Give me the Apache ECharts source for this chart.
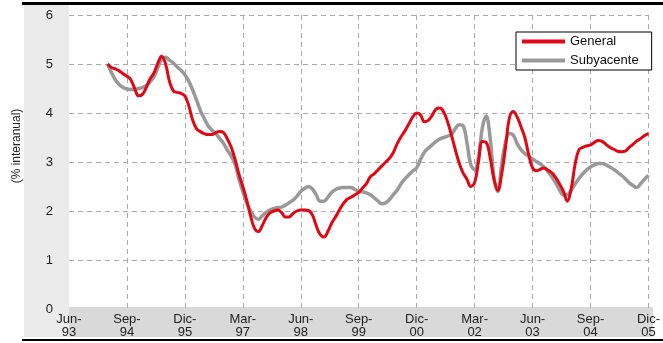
<!DOCTYPE html>
<html><head><meta charset="utf-8">
<script src="https://cdn.jsdelivr.net/npm/echarts/dist/echarts.min.js"></script>
<style>html,body{margin:0;padding:0;background:#fff}#c{width:663px;height:343px}</style>
</head><body><div id="c"></div>
<script>
// Month names (Spanish) and axis range
const monthNames = ['Ene','Feb','Mar','Abr','May','Jun','Jul','Ago','Sep','Oct','Nov','Dic'];
const axisStart = {year: 1993, month: 5};   // Jun-93
const axisEnd = {year: 2005, month: 11};    // Dic-05
const seriesStart = 'Abr-94';
const tickLabels = ['Jun-93','Sep-94','Dic-95','Mar-97','Jun-98','Sep-99','Dic-00','Mar-02','Jun-03','Sep-04','Dic-05'];
const yTicks = [0,1,2,3,4,5,6];
const seriesNames = ['General','Subyacente'];

// Monthly values from Abr-94 to Dic-05 (% interanual)
const general = [
5.00,4.93,4.90,4.86,4.80,4.75,4.68,4.50,4.35,4.38,4.52,4.70,4.82,5.02,5.16,5.00,4.65,4.45,4.42,4.40,
4.35,4.15,3.86,3.68,3.62,3.58,3.56,3.56,3.60,3.62,3.60,3.47,3.30,3.05,2.75,2.50,2.22,1.90,1.65,1.58,
1.70,1.86,1.96,2.00,2.02,1.97,1.88,1.88,1.95,2.00,2.02,2.02,2.01,1.92,1.70,1.52,1.47,1.58,1.75,1.88,
2.02,2.15,2.24,2.28,2.33,2.38,2.47,2.56,2.70,2.76,2.84,2.92,3.00,3.08,3.20,3.38,3.52,3.64,3.78,3.92,
4.00,3.96,3.82,3.85,3.95,4.08,4.10,4.02,3.82,3.55,3.25,2.98,2.78,2.65,2.50,2.58,3.00,3.42,3.40,3.10,
2.65,2.42,2.75,3.30,3.90,4.03,3.92,3.72,3.50,3.15,2.88,2.82,2.85,2.88,2.83,2.78,2.68,2.55,2.40,2.20,
2.45,2.95,3.25,3.30,3.33,3.35,3.40,3.44,3.42,3.36,3.30,3.26,3.22,3.21,3.22,3.30,3.36,3.43,3.48,3.54,
3.58];
const subyacente = [
5.00,4.82,4.68,4.58,4.52,4.49,4.48,4.48,4.50,4.52,4.56,4.64,4.74,4.92,5.10,5.14,5.08,5.02,4.94,4.87,
4.78,4.65,4.47,4.27,4.05,3.89,3.74,3.65,3.58,3.48,3.38,3.24,3.12,2.95,2.65,2.40,2.16,2.00,1.88,1.83,
1.90,1.97,2.02,2.05,2.07,2.08,2.12,2.17,2.22,2.30,2.40,2.46,2.50,2.45,2.33,2.20,2.20,2.28,2.38,2.44,
2.47,2.48,2.48,2.48,2.44,2.40,2.39,2.37,2.33,2.27,2.20,2.15,2.17,2.24,2.34,2.43,2.56,2.66,2.74,2.82,
2.88,3.05,3.20,3.28,3.35,3.42,3.47,3.50,3.53,3.56,3.68,3.76,3.74,3.40,2.95,2.84,3.10,3.70,3.94,3.50,
2.70,2.40,2.95,3.40,3.58,3.55,3.38,3.25,3.17,3.12,3.06,3.01,2.96,2.89,2.80,2.70,2.57,2.43,2.33,2.33,
2.43,2.55,2.66,2.76,2.84,2.90,2.94,2.97,2.97,2.94,2.90,2.85,2.79,2.73,2.66,2.58,2.52,2.48,2.56,2.65,
2.73];

// Build categories
const categories = [];
for (let y = axisStart.year, m = axisStart.month; y < axisEnd.year || (y === axisEnd.year && m <= axisEnd.month); ) {
  categories.push(monthNames[m] + '-' + String(y).slice(2));
  m++; if (m === 12) { m = 0; y++; }
}
const offset = categories.indexOf(seriesStart);
const pad = arr => new Array(offset).fill(null).concat(arr);
const tickSet = new Set(tickLabels);

const chart = echarts.init(document.getElementById('c'), null, {renderer: 'canvas'});
const FONT = '"Liberation Sans", Arial, sans-serif';
chart.setOption({
  animation: false,
  backgroundColor: '#fff',
  grid: {left: 69, right: 10, top: 15, bottom: 34, containLabel: false},
  graphic: [
    {type: 'rect', z: -10, silent: true, shape: {x: 24, y: 5, width: 45, height: 332}, style: {fill: '#ebebeb'}},
    {type: 'rect', z: -10, silent: true, shape: {x: 69, y: 307, width: 584, height: 30}, style: {fill: '#d9d9d9'}},
    {type: 'rect', z: 10, silent: true, shape: {x: 22, y: 2, width: 641, height: 3}, style: {fill: '#000'}},
    {type: 'rect', z: 10, silent: true, shape: {x: 22, y: 339, width: 641, height: 2}, style: {fill: '#000'}},
    {type: 'text', z: 10, silent: true, x: 17, y: 146, rotation: Math.PI / 2,
      style: {text: '(% interanual)', font: '12px ' + FONT, fill: '#222', align: 'center', verticalAlign: 'middle'}}
  ],
  legend: {
    orient: 'vertical', left: 516, top: 32,
    data: seriesNames,
    icon: 'rect', itemWidth: 43, itemHeight: 4, itemGap: 6,
    padding: [3, 13, 3, 6],
    borderColor: '#000', borderWidth: 1, backgroundColor: '#fff',
    textStyle: {fontFamily: FONT, fontSize: 13, color: '#111'}
  },
  xAxis: {
    type: 'category', data: categories, boundaryGap: false,
    axisLine: {show: false}, axisTick: {show: false},
    axisLabel: {
      interval: (i, v) => tickSet.has(v),
      formatter: v => v.replace('-', '-\n'),
      fontFamily: FONT, fontSize: 13, lineHeight: 13, color: '#222', margin: 4
    },
    splitLine: {show: true, interval: (i, v) => i > 0 && tickSet.has(v),
      lineStyle: {color: '#aaa', width: 1, type: [5, 4]}}
  },
  yAxis: {
    type: 'value', min: yTicks[0], max: yTicks[yTicks.length - 1], interval: 1,
    axisLine: {show: false}, axisTick: {show: false},
    axisLabel: {fontFamily: FONT, fontSize: 13, color: '#222', margin: 16, padding: [6, 0, 0, 0]},
    splitLine: {show: true, showMinLine: false, lineStyle: {color: '#aaa', width: 1, type: [5, 4]}}
  },
  series: [
    {name: seriesNames[0], type: 'line', data: pad(general), smooth: 0.4, showSymbol: false, symbol: 'none',
      lineStyle: {color: '#e30613', width: 3}, itemStyle: {color: '#e30613'}, z: 3},
    {name: seriesNames[1], type: 'line', data: pad(subyacente), smooth: 0.4, showSymbol: false, symbol: 'none',
      lineStyle: {color: '#999999', width: 3.5}, itemStyle: {color: '#999999'}, z: 2}
  ]
});
</script></body></html>
